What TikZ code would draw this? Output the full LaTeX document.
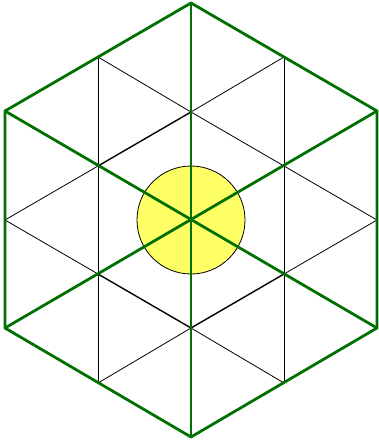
\documentclass[tikz,border=0pt]{standalone}
\definecolor{hexgreen}{RGB}{0,112,0}
\definecolor{sunyellow}{RGB}{255,255,102}
\tikzset{
  outer/.style={draw=hexgreen,line width=2.8pt,line join=round,line cap=round},
  grid/.style={draw=black,line width=0.8pt},
  gridbold/.style={draw=black,line width=1.4pt},
  sun/.style={fill=sunyellow,draw=black,line width=0.8pt}
}
\begin{document}
\begin{tikzpicture}[x=1pt,y=-1pt]
\useasboundingbox (0,0) rectangle (378,441);
% centre and radius
\coordinate (C) at (191,220);
\def\R{217}
% hexagon vertices
\coordinate (T)  at (191,3);
\coordinate (UR) at (377,111);
\coordinate (LR) at (377,328);
\coordinate (B)  at (191,437);
\coordinate (LL) at (5,328);
\coordinate (UL) at (5,111);
% edge midpoints
\coordinate (mTL) at (98,57);
\coordinate (mTR) at (284,57);
\coordinate (mR)  at (377,220);
\coordinate (mBR) at (284,383);
\coordinate (mBL) at (98,383);
\coordinate (mL)  at (5,220);
% inner hexagon
\coordinate (iT)  at (191,112);
\coordinate (iUR) at (284,166);
\coordinate (iLR) at (284,274);
\coordinate (iB)  at (191,328);
\coordinate (iLL) at (98,274);
\coordinate (iUL) at (98,166);
% yellow circle
\node[sun,circle,minimum size=108pt,inner sep=0pt] (S) at (C) {};
% thin grid
\draw[grid] (mTL) -- (mBL);
\draw[grid] (mTR) -- (mBR);
\draw[grid] (mTL) -- (iT) -- (iUR) -- (mR);
\draw[grid] (mTR) -- (iT);
\draw[grid] (iUL) -- (mL);
\draw[grid] (mL) -- (iLL);
\draw[grid] (iB) -- (mBR);
\draw[grid] (mR) -- (iLR);
\draw[grid] (iB) -- (mBL);
\draw[gridbold] (iT) -- (iUL);
\draw[gridbold] (iLL) -- (iB) -- (iLR);
% green diagonals and outline
\draw[outer] (T) -- (B);
\draw[outer] (UL) -- (LR);
\draw[outer] (UR) -- (LL);
\draw[outer] (T) -- (UR) -- (LR) -- (B) -- (LL) -- (UL) -- cycle;
\end{tikzpicture}
\end{document}
